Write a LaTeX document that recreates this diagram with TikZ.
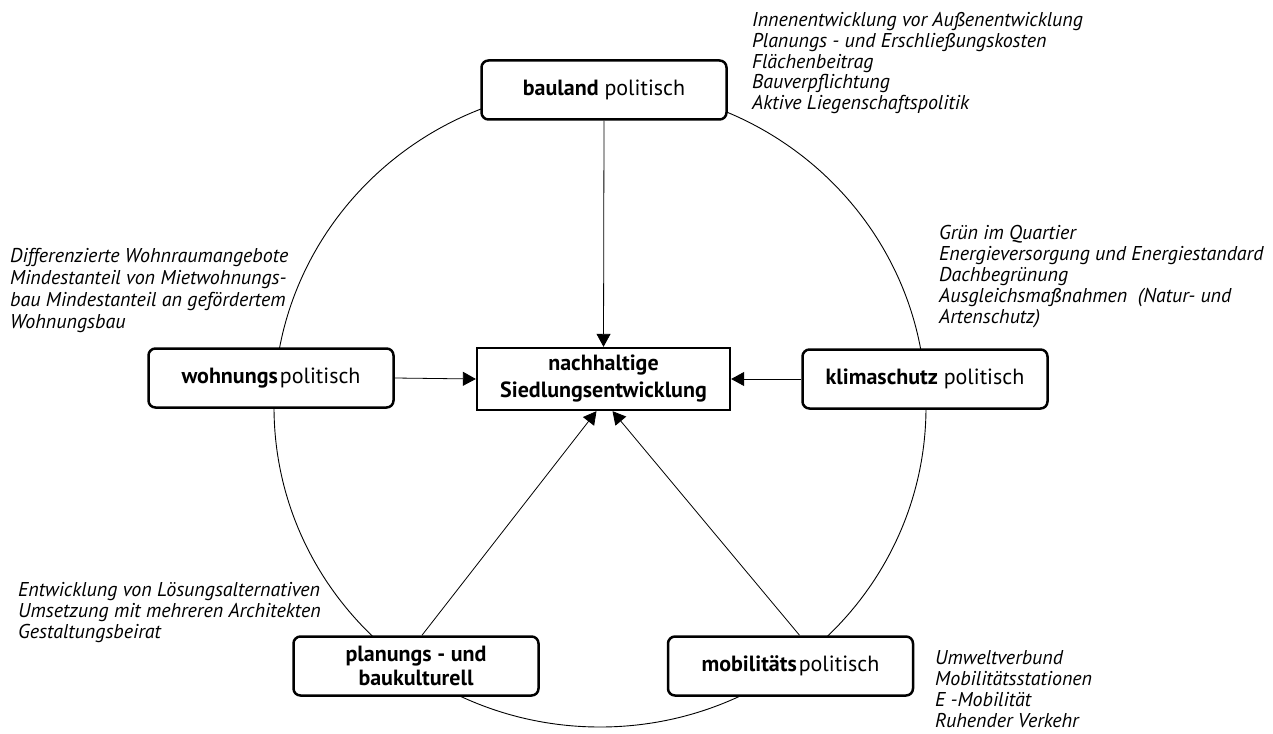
\documentclass[tikz,border=0pt]{standalone}
\usepackage{fontspec}
\setmainfont{PT Sans}
\usetikzlibrary{arrows.meta,calc}
\tikzset{
  pbox/.style={draw, fill=white, line width=2.5pt, rounded corners=7pt, minimum width=245pt, minimum height=59pt, align=center, font=\fontsize{22}{24}\selectfont, inner sep=0pt},
  cbox/.style={draw, fill=white, line width=2.3pt, minimum width=253pt, minimum height=62pt, align=center, font=\fontsize{22}{27}\selectfont\bfseries, inner sep=0pt},
  note/.style={align=left, anchor=north west, inner sep=0pt, font=\fontsize{20}{20.8}\selectfont\itshape},
  arr/.style={-{Triangle[length=13pt,width=14pt]}, line width=0.8pt},
  ring/.style={line width=0.9pt}
}
\begin{document}
\begin{tikzpicture}[x=1pt,y=-1pt]
\useasboundingbox (0,0) rectangle (1273,733);
% ring
\draw[ring] (600,407) ellipse [x radius=326pt, y radius=320pt];
% boxes
\node[pbox] (bau) at (604,90) {\textbf{bauland} politisch};
\node[cbox] (ctr) at (603.5,379) {nachhaltige\\Siedlungsentwicklung};
\node[pbox] (woh) at (271,378) {\textbf{wohnungs}\hspace{2pt}politisch};
\node[pbox] (kli) at (925,379) {\textbf{klimaschutz} politisch};
\node[pbox, font=\fontsize{22}{23.5}\selectfont\bfseries] (pla) at (416,666) {planungs - und\\baukulturell};
\node[pbox] (mob) at (790.5,666) {\textbf{mobilitäts}\hspace{2pt}politisch};
% arrows
\draw[arr] (bau.south) -- (ctr.north);
\draw[arr] (woh.east) -- (ctr.west);
\draw[arr] (kli.west) -- (ctr.east);
\draw[arr] ($(pla.north)+(6,0)$) -- ($(ctr.south)+(-7,0)$);
\draw[arr] ($(mob.north)+(9,0)$) -- ($(ctr.south)+(9,0)$);
% notes
\node[note] (n1) at (752,12) {Innenentwicklung vor Außenentwicklung\\Planungs - und Erschließungskosten\\Flächenbeitrag\\Bauverpflichtung\\Aktive Liegenschaftspolitik};
\node[note] (n2) at (939,225.5) {Grün im Quartier\\Energieversorgung und Energiestandard\\Dachbegrünung\\Ausgleichsmaßnahmen\ \ (Natur- und\\Artenschutz)};
\node[note, font=\fontsize{20}{21.7}\selectfont\itshape] (n3) at (10,248.5) {Differenzierte Wohnraumangebote\\Mindestanteil von Mietwohnungs-\\bau Mindestanteil an gefördertem\\Wohnungsbau};
\node[note] (n4) at (18,582.5) {Entwicklung von Lösungsalternativen\\Umsetzung mit mehreren Architekten\\Gestaltungsbeirat};
\node[note] (n5) at (935,650.5) {Umweltverbund\\Mobilitätsstationen\\E -Mobilität\\Ruhender Verkehr};
\end{tikzpicture}
\end{document}
